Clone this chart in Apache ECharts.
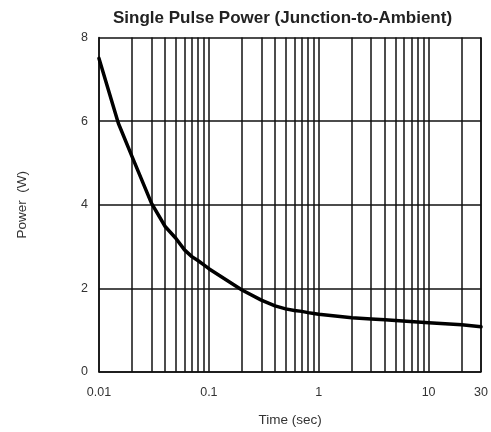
<!DOCTYPE html>
<html>
<head>
<meta charset="utf-8">
<script src="https://cdn.jsdelivr.net/npm/echarts@6/dist/echarts.min.js"></script>
<style>html,body{margin:0;padding:0;background:#fff}#c{width:491px;height:432px}</style>
</head>
<body>
<div id="c"></div>
<script>
var times = [0.01, 0.015, 0.02, 0.03, 0.04, 0.05, 0.06, 0.07, 0.08, 0.09, 0.1, 0.2, 0.3, 0.4, 0.5, 0.6, 0.7, 0.8, 0.9, 1, 2, 3, 4, 5, 10, 20, 30];
var power = [7.5, 5.95, 5.15, 4.04, 3.48, 3.2, 2.92, 2.76, 2.66, 2.56, 2.47, 1.96, 1.72, 1.58, 1.51, 1.47, 1.45, 1.42, 1.4, 1.38, 1.3, 1.27, 1.25, 1.23, 1.18, 1.13, 1.08];
var minorGrid = [0.02,0.03,0.04,0.05,0.06,0.07,0.08,0.09,0.2,0.3,0.4,0.5,0.6,0.7,0.8,0.9,2,3,4,5,6,7,8,9,20,30];
var yTicks = [0, 2, 4, 6, 8];

var FONT = 'Liberation Sans, Arial, sans-serif';
var chart = echarts.init(document.getElementById('c'));
var lineStyleGrid = {color: '#111', width: 1.5, type: 'solid'};
chart.setOption({
  animation: false,
  title: {
    text: 'Single Pulse Power (Junction-to-Ambient)',
    left: 108, top: 5,
    textStyle: {fontFamily: FONT, fontSize: 17, fontWeight: 'bold', color: '#222'}
  },
  grid: {left: 99, right: 9, top: 37.5, bottom: 60},
  xAxis: {
    type: 'log', logBase: 10, min: 0.01, max: 30,
    name: 'Time (sec)', nameLocation: 'middle', nameGap: 41,
    nameTextStyle: {fontFamily: FONT, fontSize: 13.5, color: '#333'},
    axisLine: {show: true, lineStyle: lineStyleGrid},
    axisTick: {show: false},
    splitLine: {show: true, lineStyle: lineStyleGrid},
    minorTick: {show: false},
    axisLabel: {
      margin: 14, fontFamily: FONT, fontSize: 12.5, color: '#333',
      showMinLabel: true, showMaxLabel: true,
      formatter: function (v) { return String(+(+v).toPrecision(3)); }
    }
  },
  yAxis: {
    type: 'value', min: 0, max: 8, interval: 2,
    name: 'Power  (W)', nameLocation: 'middle', nameGap: 70,
    nameTextStyle: {fontFamily: FONT, fontSize: 13.5, color: '#333'},
    axisLine: {show: true, lineStyle: lineStyleGrid},
    axisTick: {show: false},
    splitLine: {show: true, lineStyle: lineStyleGrid},
    axisLabel: {
      margin: 11, fontFamily: FONT, fontSize: 12.5, color: '#333',
      formatter: function (v) { return yTicks.indexOf(v) >= 0 ? String(v) : ''; }
    }
  },
  series: [{
    type: 'line',
    data: times.map(function (t, i) { return [t, power[i]]; }),
    smooth: false,
    symbol: 'none',
    lineStyle: {color: '#000', width: 3.5, join: 'round', cap: 'round'},
    z: 5,
    markLine: {
      silent: true, symbol: 'none', label: {show: false},
      lineStyle: lineStyleGrid,
      data: minorGrid.map(function (v) { return {xAxis: v}; })
    }
  }]
});
</script>
</body>
</html>
